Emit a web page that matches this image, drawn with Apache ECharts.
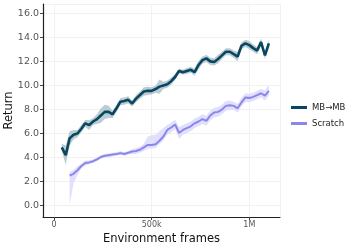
<!DOCTYPE html>
<html><head><meta charset="utf-8">
<script src="https://cdn.jsdelivr.net/npm/echarts@6/dist/echarts.min.js"></script>
<style>html,body{margin:0;padding:0;background:#fff}#c{width:357px;height:250px}</style>
</head><body><div id="c"></div>
<script>
// frames in thousands
const framesMB = [40,60,80,100,120,140,160,180,200,220,240,260,280,300,320,340,360,380,400,420,440,460,480,500,520,540,560,580,600,620,640,660,680,700,720,740,760,780,800,820,840,860,880,900,920,940,960,980,1000,1020,1040,1060,1080,1100];
const returnMB = [4.85,4.2,5.6,5.9,6.0,6.4,6.85,6.7,7.0,7.2,7.5,7.8,7.8,7.6,8.1,8.65,8.7,8.8,8.5,8.9,9.2,9.5,9.55,9.55,9.7,9.9,10.0,10.1,10.35,10.7,11.2,11.1,11.2,11.3,11.1,11.7,12.1,12.25,12.0,11.95,12.2,12.5,12.8,12.8,12.6,12.4,13.3,13.5,13.35,13.1,12.9,13.6,12.5,13.5];
const spreadMB = [0.3,0.8,0.6,0.4,0.3,0.3,0.3,0.4,0.3,0.4,0.6,0.6,0.5,0.3,0.3,0.3,0.3,0.3,0.25,0.3,0.3,0.35,0.35,0.3,0.3,0.6,0.3,0.3,0.3,0.25,0.2,0.2,0.25,0.25,0.3,0.35,0.3,0.3,0.3,0.3,0.35,0.3,0.3,0.3,0.3,0.4,0.3,0.3,0.35,0.3,0.3,0.3,0.3,0.3];

const framesScratch = [80,100,120,140,160,180,200,220,240,260,280,300,320,340,360,380,400,420,440,460,480,500,520,540,560,580,600,620,640,660,680,700,720,740,760,780,800,820,840,860,880,900,920,940,960,980,1000,1020,1040,1060,1080,1100];
const returnScratch = [2.5,2.65,2.95,3.3,3.55,3.6,3.7,3.85,4.05,4.15,4.2,4.25,4.3,4.37,4.3,4.4,4.5,4.55,4.65,4.85,5.05,5.05,5.1,5.4,5.75,6.3,6.5,6.75,6.05,6.3,6.45,6.6,6.85,7.0,7.2,7.05,7.5,7.75,7.8,8.0,8.3,8.35,8.3,8.1,8.6,9.0,8.95,9.05,9.2,9.35,9.15,9.55];
const spreadScratchUp = [0.3,0.3,0.3,0.2,0.2,0.15,0.15,0.15,0.15,0.15,0.15,0.15,0.15,0.15,0.15,0.15,0.2,0.25,0.25,0.3,0.7,0.8,0.8,0.8,0.7,0.4,0.4,0.4,0.5,0.4,0.4,0.4,0.4,0.4,0.4,0.4,0.4,0.4,0.4,0.4,0.4,0.4,0.35,0.35,0.35,0.35,0.35,0.35,0.35,0.35,0.4,0.5];
const spreadScratchDown = [2.4,0.8,0.4,0.2,0.2,0.15,0.15,0.15,0.15,0.15,0.15,0.15,0.15,0.15,0.15,0.15,0.2,0.25,0.25,0.3,0.3,0.3,0.3,0.3,0.3,0.4,0.4,0.4,0.5,0.4,0.4,0.4,0.4,0.4,0.4,0.4,0.4,0.4,0.4,0.4,0.4,0.4,0.35,0.35,0.35,0.35,0.35,0.35,0.35,0.35,0.4,0.4];

const seriesNames = ['MB\u2192MB','Scratch'];
const xTickLabels = {0:'0',500000:'500k',1000000:'1M'};

const colMB = '#0b4660', colScratch = '#8a87ec';
const bandMB = '#b4c8cf', bandScratch = '#dedcfb';

function pairs(frames, vals){ return frames.map((f,i)=>[f*1000, vals[i]]); }
function bandSeries(frames, vals, up, down, color){
  const upper = frames.map((f,i)=>[f*1000, vals[i]+up[i]]);
  const lower = frames.map((f,i)=>[f*1000, vals[i]-down[i]]);
  return {
    type:'custom', silent:true, clip:true, z:1,
    data:[[frames[0]*1000, vals[0]]],
    encode:{x:0,y:1},
    renderItem:function(params, api){
      const pts = upper.map(p=>api.coord(p)).concat(lower.slice().reverse().map(p=>api.coord(p)));
      return {type:'polygon', shape:{points:pts}, style:{fill:color, opacity:0.9}};
    }
  };
}

const chart = echarts.init(document.getElementById('c'), null, {renderer:'canvas'});
const font = 'DejaVu Sans';
chart.setOption({
  animation:false,
  backgroundColor:'#fff',
  textStyle:{fontFamily:font},
  grid:{left:43, top:4, width:237, height:213, containLabel:false, outerBoundsMode:'none'},
  legend:{
    data:seriesNames, orient:'vertical', left:291, top:103, itemGap:7, padding:0,
    icon:'rect', itemWidth:16, itemHeight:3,
    textStyle:{fontFamily:font, fontSize:8.5, color:'#222'}
  },
  xAxis:{
    type:'value', min:-56300, max:1157000, splitNumber:2,
    name:'Environment frames', nameLocation:'middle', nameGap:16, nameMoveOverlap:false,
    nameTextStyle:{fontFamily:font, fontSize:11.5, color:'#111'},
    axisLine:{show:true, onZero:false, lineStyle:{color:'#222', width:1.2}},
    axisTick:{show:true, length:3, lineStyle:{color:'#444'}},
    axisLabel:{fontFamily:font, fontSize:8, color:'#555', margin:4, showMinLabel:false, showMaxLabel:false,
      formatter:v=> (xTickLabels[v]!==undefined ? xTickLabels[v] : '')},
    splitLine:{show:true, lineStyle:{color:'#f1f1f1', width:1}}
  },
  yAxis:{
    type:'value', min:-0.94, max:16.77, splitNumber:9,
    name:'Return', nameLocation:'middle', nameGap:28, nameMoveOverlap:false,
    nameTextStyle:{fontFamily:font, fontSize:11.5, color:'#111'},
    axisLine:{show:true, onZero:false, lineStyle:{color:'#222', width:1.2}},
    axisTick:{show:true, length:3, lineStyle:{color:'#444'}},
    axisLabel:{fontFamily:font, fontSize:9.5, color:'#555', margin:4, showMinLabel:false, showMaxLabel:false,
      formatter:v=>v.toFixed(1)},
    splitLine:{show:true, lineStyle:{color:'#f1f1f1', width:1}}
  },
  series:[
    bandSeries(framesScratch, returnScratch, spreadScratchUp, spreadScratchDown, bandScratch),
    bandSeries(framesMB, returnMB, spreadMB, spreadMB, bandMB),
    {name:seriesNames[0], type:'line', data:pairs(framesMB, returnMB), showSymbol:false, symbol:'none', z:5,
      lineStyle:{color:colMB, width:2.6}, itemStyle:{color:colMB}},
    {name:seriesNames[1], type:'line', data:pairs(framesScratch, returnScratch), showSymbol:false, symbol:'none', z:4,
      lineStyle:{color:colScratch, width:2}, itemStyle:{color:colScratch}}
  ]
});
</script></body></html>
